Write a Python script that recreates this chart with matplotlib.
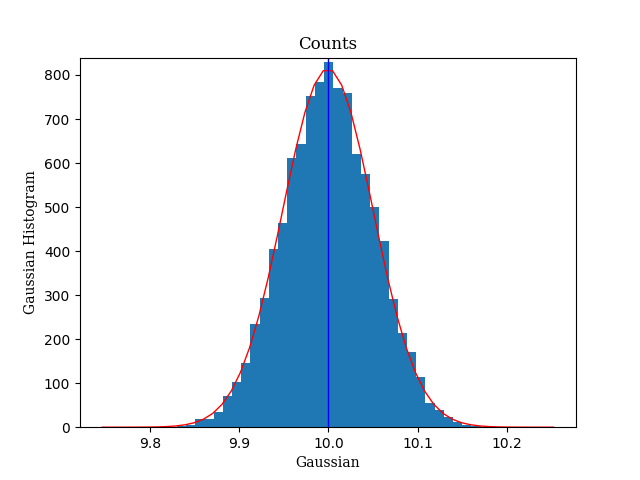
import numpy as np
import matplotlib
matplotlib.use("Agg")
import matplotlib.pyplot as plt

# histogram bins
bin_start = 9.7785
bin_width = 0.01032
counts = [1, 0, 0, 1, 1, 3, 6, 18, 18, 34, 71, 103, 145, 235, 294, 405, 463,
          611, 643, 752, 784, 830, 770, 759, 621, 574, 501, 423, 291, 214,
          171, 114, 55, 38, 23, 12, 6, 3]

# fitted gaussian curve, 50 points from mu-5sigma to mu+5sigma
curve_lo, curve_hi = 9.7465, 10.2525
curve_half = [0.003, 0.008, 0.021, 0.054, 0.13, 0.30, 0.65, 1.38, 2.81, 5.47,
              10.2, 18.3, 31.4, 51.8, 81.9, 124.3, 180.8, 252.3, 337.7, 433.5,
              533.9, 630.7, 714.7, 776.7, 809.8]
curve_y = curve_half + curve_half[::-1]
mean_val = 10.0

edges = bin_start + bin_width * np.arange(len(counts) + 1)
curve_x = np.linspace(curve_lo, curve_hi, len(curve_y))

fig, ax = plt.subplots(figsize=(6.4, 4.8), dpi=100)
ax.bar(edges[:-1], counts, width=np.diff(edges), align='edge', color='#1f77b4')
ax.plot(curve_x, curve_y, 'r-', linewidth=1)
ax.axvline(mean_val, color='b', linewidth=1)

ax.set_xlim(9.7216, 10.2776)
ax.set_ylim(0, 839.5)
ax.set_title('Counts', family='serif')
ax.set_xlabel('Gaussian', family='serif')
ax.set_ylabel('Gaussian Histogram', family='serif')

plt.savefig('out.png')
